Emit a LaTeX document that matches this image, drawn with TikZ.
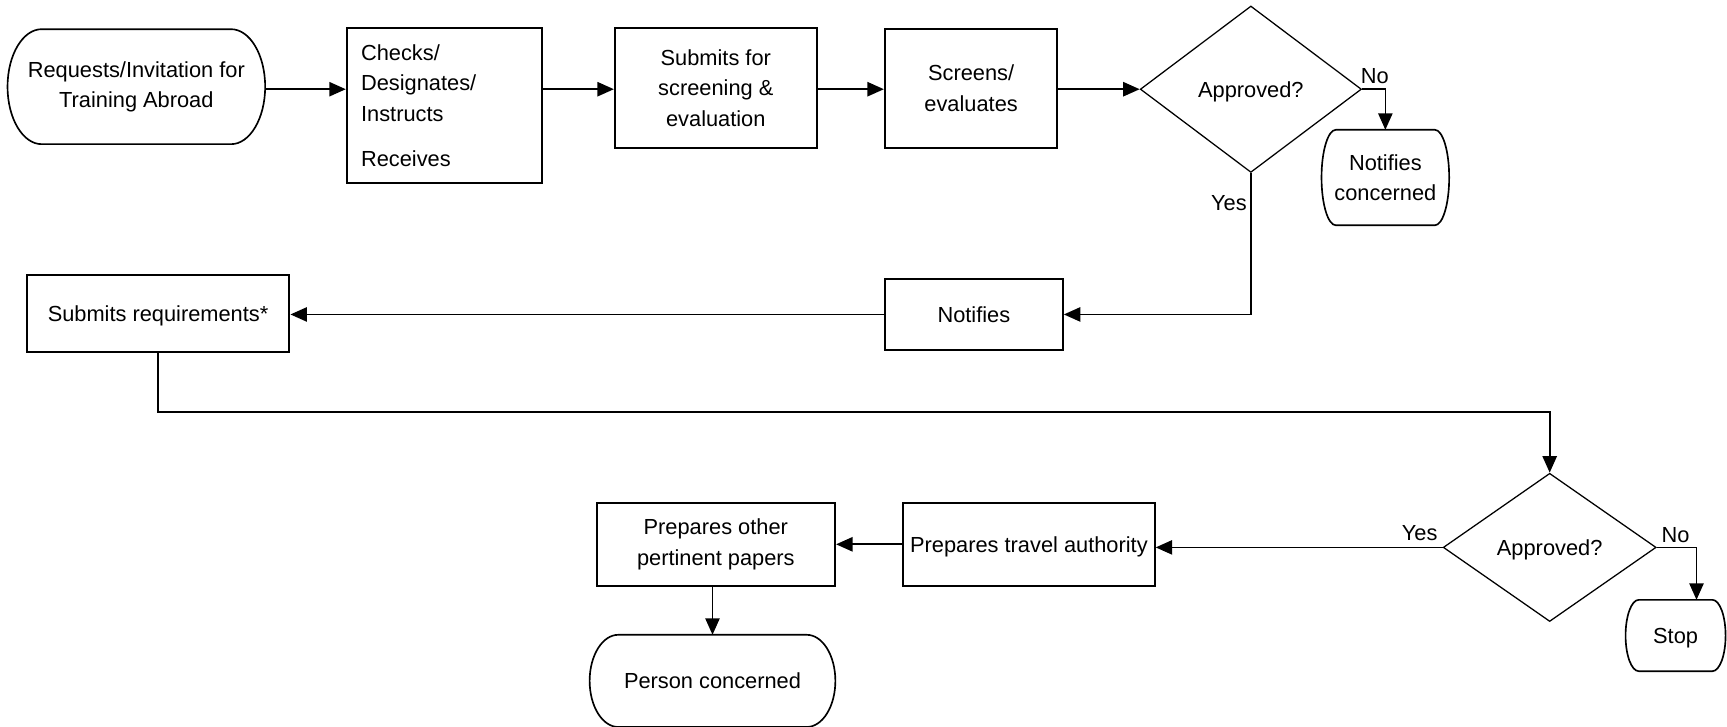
\documentclass[tikz,border=0pt]{standalone}
\usepackage{fontspec}
\setmainfont{Liberation Sans}
\usetikzlibrary{shapes.geometric,arrows.meta,calc}
\tikzset{
  txt/.style={font=\fontsize{19.8pt}{27.6pt}\selectfont},
  boxnode/.style={txt,draw,line width=1.8pt,rectangle,inner sep=0pt,align=center},
  onel/.style={text depth=0pt},
  decnode/.style={txt,draw,line width=1.15pt,diamond,inner sep=0pt,align=center,text depth=0pt},
  termnode/.style={txt,inner sep=0pt,align=center},
  termline/.style={line width=1.5pt},
  conn/.style={line width=1.5pt,-{Triangle[length=15pt,width=13pt]}},
  lbl/.style={txt,inner sep=0pt,text depth=0pt}
}
\newcommand\termshape[2]{\draw[termline] let \p1=(#1.north west), \p2=(#1.south east), \n1={abs(\y1-\y2)/2} in
  (\x1+#2pt,\y1) -- (\x2-#2pt,\y1) arc[start angle=90,end angle=-90,x radius=#2pt,y radius=\n1]
  -- (\x1+#2pt,\y2) arc[start angle=270,end angle=90,x radius=#2pt,y radius=\n1] -- cycle;}
\begin{document}
\begin{tikzpicture}[x=1pt,y=-1pt]
\path[use as bounding box,fill=white] (0,0) rectangle (1568,660);

% row 1
\node[termnode,minimum width=233.5pt,minimum height=104pt] (t1) at (123.8,78.7) {Requests/Invitation for\\Training Abroad};
\termshape{t1}{31}
\node[boxnode,text width=151.3pt,inner xsep=13pt,minimum height=140.5pt,align=left] (b2) at (403.5,96) {Checks/\\Designates/\\Instructs\\[14pt]Receives};
\node[boxnode,minimum width=183.3pt,minimum height=108.4pt] (b3) at (649.9,79.9) {Submits for\\screening \&\\evaluation};
\node[boxnode,minimum width=156.6pt,minimum height=107.8pt] (b4) at (881.7,80.2) {Screens/\\evaluates};
\node[decnode,minimum width=200.8pt,minimum height=151.1pt] (d1) at (1135.7,81) {Approved?};
\node[termnode,minimum width=115.5pt,minimum height=86.3pt] (t2) at (1257.8,161.2) {Notifies\\concerned};
\termshape{t2}{13}

% row 2
\node[boxnode,onel,minimum width=161.6pt,minimum height=64.5pt] (n) at (884.2,285.5) {Notifies};
\node[boxnode,onel,minimum width=238.6pt,minimum height=69.6pt] (s) at (143.5,284.5) {Submits requirements*};

% row 3
\node[decnode,minimum width=193.3pt,minimum height=134.6pt] (d2) at (1407,497) {Approved?};
\node[termnode,onel,minimum width=90.4pt,minimum height=64.4pt] (t3) at (1521.3,577) {Stop};
\termshape{t3}{12}
\node[boxnode,onel,minimum width=228.4pt,minimum height=75.6pt] (p1) at (934.2,494.2) {Prepares travel authority};
\node[boxnode,minimum width=216.6pt,minimum height=75.6pt] (p2) at (649.9,494.2) {Prepares other\\pertinent papers};
\node[termnode,onel,minimum width=222.7pt,minimum height=83.3pt] (t4) at (646.9,618.2) {Person concerned};
\termshape{t4}{26}

% labels
\node[lbl] (no1) at (1248.2,69) {No};
\node[lbl] (yes1) at (1115.7,184.6) {Yes};
\node[lbl] (yes2) at (1288.9,484.2) {Yes};
\node[lbl] (no2) at (1521.3,485.7) {No};

% connectors
\coordinate (r1) at (0,81);
\coordinate (r2) at (0,374);
\draw[conn] (t1.east |- r1) -- (b2.west |- r1);
\draw[conn] (b2.east |- r1) -- (b3.west |- r1);
\draw[conn] (b3.east |- r1) -- (b4.west |- r1);
\draw[conn] (b4.east |- r1) -- (d1.west);
\draw[conn] (d1.east) -| (t2.north);
\draw[conn] (d1.south) |- (n.east);
\draw[conn] (n.west) -- (n.west -| s.east);
\draw[conn] (s.south) |- (d2.north |- r2) -- (d2.north);
\draw[conn] (d2.west) -- (d2.west -| p1.east);
\draw[conn] (d2.east) -| ([xshift=19pt]t3.north);
\draw[conn] (p1.west) -- (p1.west -| p2.east);
\draw[conn] (t4.north |- p2.south) -- (t4.north);
\end{tikzpicture}
\end{document}
